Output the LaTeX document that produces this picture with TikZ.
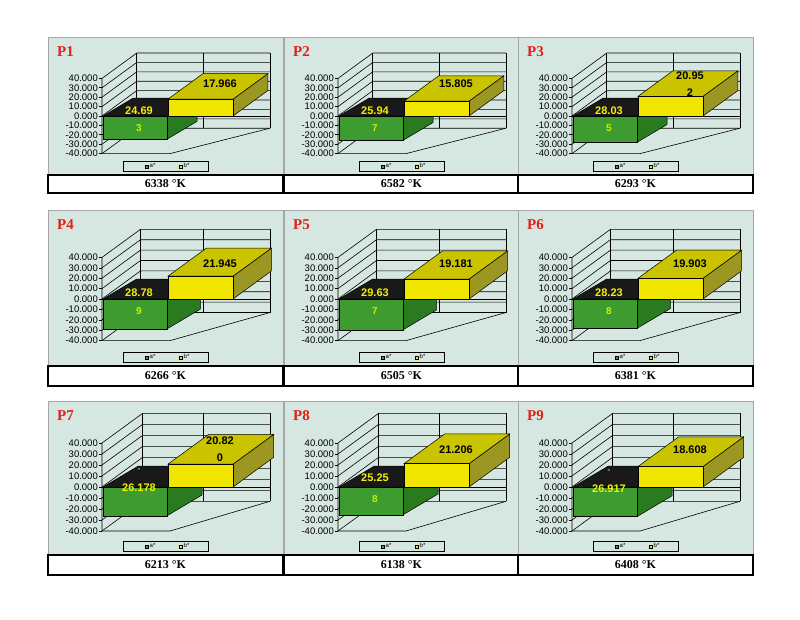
\documentclass[tikz,border=0pt]{standalone}
\usepackage{fontspec}
\setmainfont{Liberation Serif}
\setsansfont{Liberation Sans}
\begin{document}
\definecolor{pbg}{HTML}{D6E7E2}
\definecolor{gfront}{HTML}{3E9B2F}
\definecolor{gside}{HTML}{2A7A20}
\definecolor{yfront}{HTML}{F0E600}
\definecolor{ytop}{HTML}{C9C300}
\definecolor{yside}{HTML}{9C9622}
\definecolor{ylab}{HTML}{F4F000}
\definecolor{pred}{HTML}{E0201A}
\tikzset{
  grid/.style={black,line width=0.6pt},
  axlab/.style={font=\sffamily\fontsize{9.5}{9.5}\selectfont,anchor=east,inner sep=0pt},
  alab/.style={font=\sffamily\bfseries\fontsize{11}{11}\selectfont,text=ylab,inner sep=0pt},
  blab/.style={font=\sffamily\bfseries\fontsize{11}{17}\selectfont,text=black,inner sep=0pt,align=center},
  plab/.style={font=\bfseries\fontsize{15}{15}\selectfont,text=pred,anchor=west,inner sep=0pt},
  tlab/.style={font=\bfseries\fontsize{12}{12}\selectfont,inner sep=0pt},
  leg/.style={font=\sffamily\fontsize{6}{6}\selectfont,inner sep=0pt}
}
\newcommand\mysq[1]{\fcolorbox{black}{#1}{\rule{0pt}{2pt}\hspace{2pt}}}
% args: 1 left, 2 name, 3 a, 4 b, 5 a label, 6 green digit, 7 b label, 8 temp, 9 a label y offset
\newcommand\mypanel[9]{%
\begin{scope}[shift={(#1,\rowT)}]
\pgfmathsetmacro\zz{\rowZ-\rowT}
\pgfmathsetmacro\ss{\rowS}
\pgfmathsetmacro\dx{37*\ss}\pgfmathsetmacro\dy{27*\ss}
\pgfmathsetmacro\gdx{32*\ss}\pgfmathsetmacro\gdy{19*\ss}
\pgfmathsetmacro\bt{\rowBT-\rowT}\pgfmathsetmacro\bb{\rowBB-\rowT}
\pgfmathsetmacro\ytop{\zz-40*\ss}\pgfmathsetmacro\ybot{\zz+40*\ss}
\pgfmathsetmacro\ya{\zz+#3*\ss}\pgfmathsetmacro\yb{\zz-#4*\ss}
\fill[pbg,draw=gray!70] (0,0) rectangle (235,\bt);
\node[plab] (#2-name) at (9,15) {#2};
% walls
\foreach \v/\t/\k in {-40/-40.000/a,-30/-30.000/b,-20/-20.000/c,-10/-10.000/d,0/0.000/e,10/10.000/f,20/20.000/g,30/30.000/h,40/40.000/i}{
  \pgfmathsetmacro\yy{\zz-\v*\ss}
  \draw[grid] (54,\yy) -- (54+\dx,\yy-\dy) -- (222,\yy-\dy);
  \draw[grid] (51,\yy) -- (54,\yy);
  \node[axlab] (#2-ax\k) at (50,\yy) {\t};
}
\draw[grid] (54+\dx,\ytop-\dy) -- (54+\dx,\ybot-\dy);
\draw[grid] (155,\ytop-\dy) -- (155,\ybot-\dy);
\draw[grid] (222,\ytop-\dy) -- (222,\ybot-\dy);
\draw[grid] (54,\ytop) -- (54,\ybot) -- (122,\ybot) -- (222,\ybot-\dy);
\draw[grid] (54,\zz) -- (222,\zz);
% green bar
\filldraw[fill=gside,draw=black,line width=0.5pt] (119,\zz) -- (119+\gdx,\zz-\gdy) -- (119+\gdx,\ya-\gdy) -- (119,\ya) -- cycle;
\filldraw[fill=black!90,draw=black,line width=0.5pt] (55,\zz) -- (119,\zz) -- (119+\gdx,\zz-\gdy) -- (55+\gdx,\zz-\gdy) -- cycle;
\filldraw[fill=gfront,draw=black,line width=0.5pt] (55,\zz) rectangle (119,\ya);
% yellow bar
\filldraw[fill=yside,draw=black,line width=0.5pt] (185,\yb) -- (185+\dx,\yb-\dy) -- (185+\dx,\zz-\dy) -- (185,\zz) -- cycle;
\filldraw[fill=ytop,draw=black,line width=0.5pt] (120,\yb) -- (185,\yb) -- (185+\dx,\yb-\dy) -- (120+\dx,\yb-\dy) -- cycle;
\filldraw[fill=yfront,draw=black,line width=0.5pt] (120,\yb) rectangle (185,\zz);
% labels
\node[font=\sffamily\bfseries\fontsize{8}{8}\selectfont,text=gray!40,inner sep=0pt] (#2-minus) at (91,\zz+#9-18) {-};
\node[alab] (#2-a) at (91,\zz+#9) {#5};
\node[alab,font=\sffamily\bfseries\fontsize{10}{10}\selectfont,text=ylab!80!green] (#2-g) at (91,\zz+12) {#6};
\node[blab] (#2-b) at (172,\zz-34*\ss) {#7};
% legend
\draw[black,line width=0.6pt] (75,\bt-14) rectangle (160,\bt-4);
\node[leg] (#2-la) at (102,\bt-9) {\setlength{\fboxsep}{0.6pt}\setlength{\fboxrule}{0.4pt}\mysq{gfront}\,a*};
\node[leg] (#2-lb) at (136,\bt-9) {\setlength{\fboxsep}{0.6pt}\setlength{\fboxrule}{0.4pt}\mysq{yfront}\,b*};
% temperature box
\draw[black,line width=1.2pt,fill=white] (0,\bt) rectangle (235,\bb);
\node[tlab] (#2-t) at (117.5,{(\bt+\bb)/2}) {#8 °K};
\end{scope}}
\begin{tikzpicture}[x=1pt,y=-1pt]
\useasboundingbox[fill=white] (0,0) rectangle (800,620);
\def\rowT{37}\def\rowZ{116}\def\rowS{0.94}\def\rowBT{175}\def\rowBB{193}
\mypanel{48}{P1}{24.693}{17.966}{24.69}{3}{17.966}{6338}{-5}
\mypanel{284}{P2}{25.947}{15.805}{25.94}{7}{15.805}{6582}{-5}
\mypanel{518}{P3}{28.035}{20.952}{28.03}{5}{20.95\\2}{6293}{-5}
\def\rowT{210}\def\rowZ{299}\def\rowS{1.04}\def\rowBT{366}\def\rowBB{386}
\mypanel{48}{P4}{28.789}{21.945}{28.78}{9}{21.945}{6266}{-6}
\mypanel{284}{P5}{29.637}{19.181}{29.63}{7}{19.181}{6505}{-6}
\mypanel{518}{P6}{28.238}{19.903}{28.23}{8}{19.903}{6381}{-6}
\def\rowT{401}\def\rowZ{487}\def\rowS{1.1}\def\rowBT{555}\def\rowBB{575}
\mypanel{48}{P7}{26.178}{20.820}{26.178}{}{20.82\\0}{6213}{1}
\mypanel{284}{P8}{25.258}{21.206}{25.25}{8}{21.206}{6138}{-9}
\mypanel{518}{P9}{26.917}{18.608}{26.917}{}{18.608}{6408}{2}
\end{tikzpicture}
\end{document}
